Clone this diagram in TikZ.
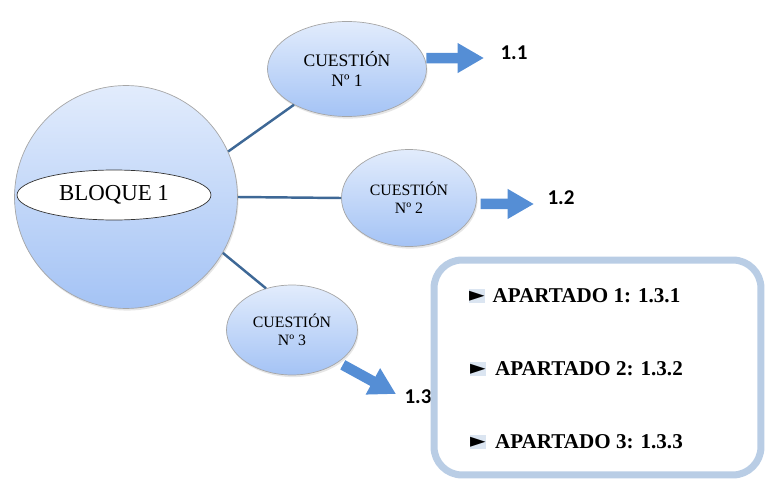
\documentclass[tikz,border=0pt]{standalone}
\usepackage{fontspec}
\setmainfont{Liberation Serif}[BoldFont={Liberation Serif Bold}]
\newfontfamily\numfont{Carlito}
\newfontfamily\symfont{DejaVu Sans}
\newfontfamily\apfont{Liberation Serif Bold}
\usepackage{xcolor}
\usetikzlibrary{shapes,arrows.meta,positioning,calc,shadows}

\definecolor{linkblue}{RGB}{62,104,150}
\definecolor{arrowblue}{RGB}{85,142,213}
\definecolor{boxblue}{RGB}{185,205,229}
\definecolor{topblue}{RGB}{226,236,252}
\definecolor{botblue}{RGB}{164,195,245}
\definecolor{tagblue}{RGB}{219,229,241}

\begin{document}
\begin{tikzpicture}[x=0.02cm, y=-0.02cm,
    bubble/.style={ellipse, draw=gray!70, thin, top color=topblue, bottom color=botblue, align=center, inner sep=0pt, drop shadow={opacity=0.2, shadow xshift=0.6pt, shadow yshift=-1.2pt}},
    link/.style={draw=linkblue, line width=1.4pt},
    fat/.style={arrowblue, line width=6pt, -{Triangle[length=15pt,width=16pt]}},
    numlbl/.style={font=\numfont\fontsize{12}{14}\bfseries\selectfont, inner sep=0pt},
    tag/.style={fill=tagblue, minimum width=0.32cm, minimum height=0.28cm, inner sep=0pt, font=\symfont\fontsize{11.5}{11.5}\selectfont},
    item/.style={font=\apfont\fontsize{12}{14}\selectfont, inner sep=0pt}]
    \useasboundingbox (0,0) rectangle (765,480);
    % central block
    \node[bubble, circle, minimum size=4.46cm] (bloque) at (126,197) {};
    \node[ellipse, draw=black!80, fill=white, minimum width=3.88cm, minimum height=1cm, inner sep=0pt, font=\fontsize{13}{15}\selectfont] (bl) at (114,195) {BLOQUE 1};
    % questions
    \node[bubble, minimum width=3.18cm, minimum height=1.9cm, font=\fontsize{10}{11.3}\selectfont] (c1) at (347,69) {CUESTIÓN\\Nº 1};
    \node[bubble, minimum width=2.7cm, minimum height=1.94cm, font=\fontsize{9}{10.2}\selectfont] (c2) at (409,198) {CUESTIÓN\\Nº 2};
    \node[bubble, minimum width=2.62cm, minimum height=1.8cm, font=\fontsize{9}{10.2}\selectfont] (c3) at (292,330) {CUESTIÓN\\Nº 3};
    \draw[link] (bloque.24) -- (c1.214);
    \draw[link] (bloque.east) -- (c2.west);
    \draw[link] (bloque.330) -- (c3.122);
    % results
    \node[numlbl] (n11) at (514,53) {1.1};
    \node[numlbl] (n12) at (561,198) {1.2};
    \node[numlbl] (n13) at (418,397) {1.3};
    \coordinate (a1) at (484,58);
    \coordinate (a2) at (534,204);
    \coordinate (a3) at (396,394);
    \draw[fat, shorten <=1pt] (c1.8) -- (a1);
    \draw[fat, shorten <=2.5pt] (c2.-5) -- (a2);
    \draw[fat, shorten <=3pt] (c3.-35) -- (a3);
    % sections box
    \node[draw=boxblue, fill=white, line width=4pt, rounded corners=16pt, minimum width=6.54cm, minimum height=4.3cm] (apbox) at (597.5,367.5) {};
    \node[tag] (b1) at (477,296) {►};
    \node[tag] (b2) at (478,369) {►};
    \node[tag] (b3) at (478,442) {►};
    \node[item, right=0.14cm of b1] (p1) {APARTADO 1: 1.3.1};
    \node[item, right=0.17cm of b2] (p2) {APARTADO 2: 1.3.2};
    \node[item, right=0.17cm of b3] (p3) {APARTADO 3: 1.3.3};
\end{tikzpicture}
\end{document}
